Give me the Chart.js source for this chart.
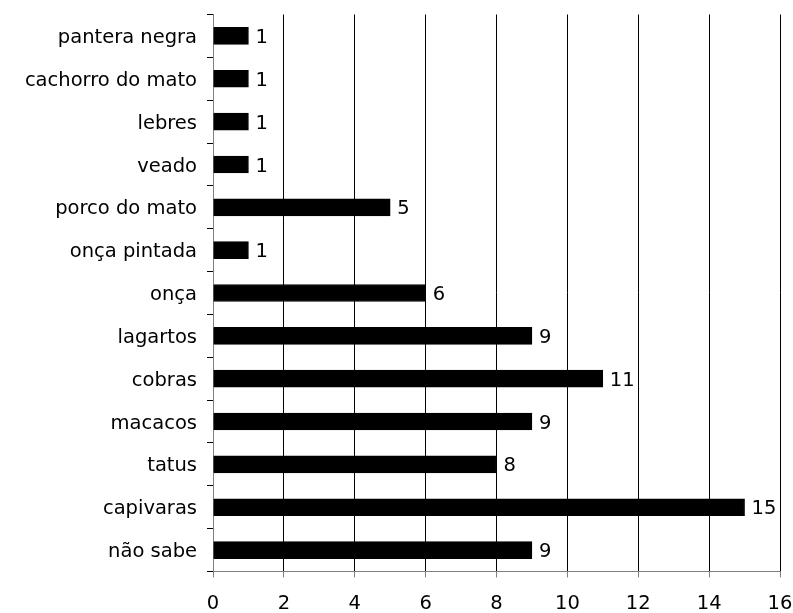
<!DOCTYPE html>
<html>
<head>
<meta charset="utf-8">
<script src="https://cdn.jsdelivr.net/npm/chart.js@4.4.1/dist/chart.umd.min.js"></script>
<style>
  html, body { margin: 0; padding: 0; background: #fff; }
  #wrap { width: 793px; height: 613px; position: relative; }
</style>
</head>
<body>
<div id="wrap"><canvas id="c" width="793" height="613"></canvas></div>
<script>
// Animals mentioned by respondents (count of mentions)
const categories = [
  'pantera negra', 'cachorro do mato', 'lebres', 'veado', 'porco do mato',
  'onça pintada', 'onça', 'lagartos', 'cobras', 'macacos', 'tatus',
  'capivaras', 'não sabe'
];
const mentions = [1, 1, 1, 1, 5, 1, 6, 9, 11, 9, 8, 15, 9];
const xTicks = [0, 2, 4, 6, 8, 10, 12, 14, 16];

const FONT = 'DejaVu Sans, Verdana, sans-serif';
const FONT_SIZE = 19.5;

// Writes each bar's value just past its end
const valueLabels = {
  id: 'valueLabels',
  afterDatasetsDraw(chart) {
    const ctx = chart.ctx;
    const meta = chart.getDatasetMeta(0);
    ctx.save();
    ctx.font = FONT_SIZE + 'px ' + FONT;
    ctx.fillStyle = '#000';
    ctx.textAlign = 'left';
    ctx.textBaseline = 'middle';
    meta.data.forEach((bar, i) => {
      ctx.fillText(String(mentions[i]), bar.x + 7, bar.y + 2);
    });
    ctx.restore();
  }
};

new Chart(document.getElementById('c'), {
  type: 'bar',
  data: {
    labels: categories,
    datasets: [{
      data: mentions,
      backgroundColor: '#000',
      borderColor: '#000',
      borderWidth: 1,
      barThickness: 17
    }]
  },
  options: {
    indexAxis: 'y',
    responsive: false,
    animation: false,
    layout: { padding: { top: 14.5, right: 13, left: 0, bottom: 0 } },
    plugins: { legend: { display: false }, tooltip: { enabled: false } },
    scales: {
      x: {
        min: 0,
        max: 16,
        afterBuildTicks(scale) { scale.ticks = xTicks.map(v => ({ value: v })); },
        afterFit(scale) { scale.height = 41.5; scale.paddingLeft = 0; scale.paddingRight = 0; },
        border: { color: '#808080', width: 1 },
        grid: { color: '#000', tickColor: '#808080', tickLength: 6, lineWidth: 1 },
        ticks: { color: '#000', font: { family: FONT, size: FONT_SIZE }, padding: 15, maxRotation: 0 }
      },
      y: {
        offset: true,
        afterFit(scale) { scale.width = 213; scale.paddingTop = 0; scale.paddingBottom = 0; },
        border: { color: '#808080', width: 1 },
        grid: { offset: true, drawOnChartArea: false, color: '#000', tickColor: '#000', tickLength: 6 },
        ticks: { color: '#000', font: { family: FONT, size: FONT_SIZE }, padding: 10, autoSkip: false, labelOffset: 2 }
      }
    }
  },
  plugins: [valueLabels]
});
</script>
</body>
</html>
